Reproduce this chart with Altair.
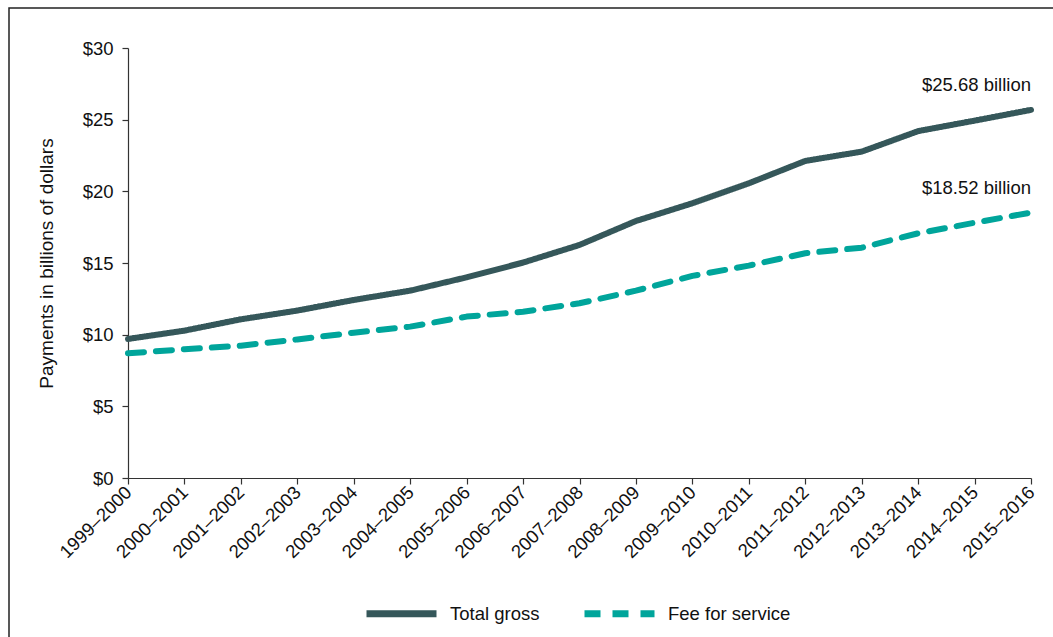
import altair as alt
import pandas as pd

years = ["1999–2000", "2000–2001", "2001–2002", "2002–2003", "2003–2004",
         "2004–2005", "2005–2006", "2006–2007", "2007–2008", "2008–2009",
         "2009–2010", "2010–2011", "2011–2012", "2012–2013", "2013–2014",
         "2014–2015", "2015–2016"]
total_gross = [9.70, 10.28, 11.07, 11.68, 12.42, 13.07, 14.00, 15.03, 16.26,
               17.93, 19.17, 20.56, 22.12, 22.77, 24.20, 24.93, 25.68]
fee_for_service = [8.70, 8.98, 9.23, 9.67, 10.14, 10.56, 11.26, 11.60, 12.19,
                   13.07, 14.10, 14.82, 15.68, 16.07, 17.07, 17.81, 18.52]
series_names = ["Total gross", "Fee for service"]
series_colors = ["#35575a", "#00a59b"]
y_ticks = [0, 5, 10, 15, 20, 25, 30]

rows = []
for i, yr in enumerate(years):
    rows.append({"year": yr, "series": series_names[0], "value": total_gross[i]})
    rows.append({"year": yr, "series": series_names[1], "value": fee_for_service[i]})
df = pd.DataFrame(rows)

FONT = "Liberation Sans"
FS = 18.5
TXT = "#111111"

x_enc = alt.X("year:N", sort=years, scale=alt.Scale(type="point", padding=0),
              axis=alt.Axis(title=None, labelAngle=-45, labelAlign="right",
                            labelBaseline="middle", labelPadding=5, tickSize=6,
                            labelFontSize=FS, labelColor=TXT, labelFont=FONT))
y_enc = alt.Y("value:Q", scale=alt.Scale(domain=[0, 30], nice=False, zero=True),
              axis=alt.Axis(values=y_ticks, labelExpr="'$' + datum.value",
                            title="Payments in billions of dollars", grid=False,
                            tickSize=6, labelPadding=9, titlePadding=26,
                            labelFontSize=FS, titleFontSize=19,
                            labelColor=TXT, titleColor=TXT,
                            titleFontWeight="normal",
                            labelFont=FONT, titleFont=FONT))

legend_props = dict(orient="none", legendX=235, legendY=527,
                    direction="horizontal", symbolType="stroke",
                    symbolSize=4900, symbolStrokeWidth=7,
                    labelFontSize=FS, labelFont=FONT, labelColor=TXT,
                    labelOffset=10, columnPadding=30)

lines = alt.Chart(df).mark_line(strokeWidth=6, strokeCap="round",
                                strokeJoin="round").encode(
    x=x_enc,
    y=y_enc,
    color=alt.Color("series:N", title=None,
                    scale=alt.Scale(domain=series_names, range=series_colors),
                    legend=alt.Legend(**legend_props)),
    strokeDash=alt.StrokeDash("series:N", title=None,
                              scale=alt.Scale(domain=series_names,
                                              range=[[1, 0], [16, 12]]),
                              legend=alt.Legend(**legend_props)),
)

labels = alt.Chart(df).transform_filter(
    alt.datum.year == years[-1]
).transform_calculate(
    label="'$' + format(datum.value, '.2f') + ' billion'"
).mark_text(align="right", baseline="alphabetic", dy=-19, fontSize=FS,
            font=FONT, color=TXT).encode(
    x=x_enc, y=y_enc, text="label:N"
)

frame = alt.Chart(alt.Data(values=[{}])).mark_rect(
    filled=False, stroke="#222222", strokeWidth=1.5
).encode(x=alt.value(-119), x2=alt.value(1000), y=alt.value(-40),
         y2=alt.value(700))

chart = alt.layer(frame, lines, labels).properties(
    width=903, height=430,
    autosize=alt.AutoSizeParams(type="none"),
    padding={"left": 128, "top": 48, "right": 22, "bottom": 159},
    background="white",
).configure_view(stroke=None).configure_axis(
    domainColor="#333333", tickColor="#333333", domainWidth=1.2, tickWidth=1.2
)

chart.save("out.html", embed_options={"renderer": "svg", "actions": False})
